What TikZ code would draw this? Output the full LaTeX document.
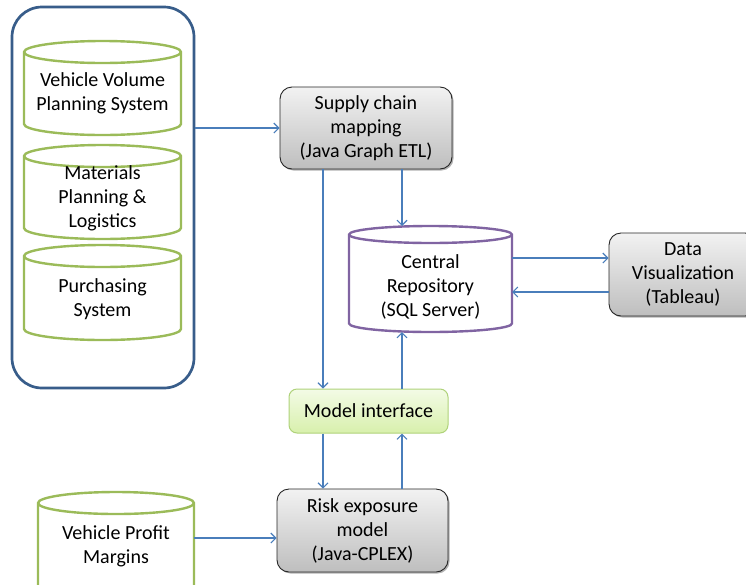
\documentclass[tikz,border=0pt]{standalone}
\usepackage{fontspec}
\setmainfont{Carlito}
\usetikzlibrary{arrows.meta,shadows,calc}
\definecolor{cgreen}{HTML}{9BBB59}
\definecolor{cpurple}{HTML}{8064A2}
\definecolor{cblue}{HTML}{385D8A}
\definecolor{carrow}{HTML}{4A7EBB}
\definecolor{mitop}{HTML}{F3FBE6}
\definecolor{mibot}{HTML}{D8F0AC}
\definecolor{miborder}{HTML}{AFD27A}
\definecolor{gtop}{HTML}{F2F2F2}
\definecolor{gbot}{HTML}{BEBEBE}
\newcommand\mycyl[7]{% name, style, x1, x2, ytop, ybot, ry (pixels, y down)
  \draw[#2, fill=white] ({#3},{-(#5)-(#7)}) -- ({#3},{-(#6)+(#7)})
    arc[start angle=180,end angle=360,x radius={((#4)-(#3))/2},y radius=#7]
    -- ({#4},{-(#5)-(#7)})
    arc[start angle=0,end angle=180,x radius={((#4)-(#3))/2},y radius=#7] -- cycle;
  \draw[#2] ({#3},{-(#5)-(#7)})
    arc[start angle=180,end angle=360,x radius={((#4)-(#3))/2},y radius=#7];
  \coordinate (#1-t) at ({((#3)+(#4))/2},{-(#5)});
  \coordinate (#1-b) at ({((#3)+(#4))/2},{-(#6)});
  \coordinate (#1-r) at ({#4},{-((#5)+(#6))/2});
}
\begin{document}
\begin{tikzpicture}[x=1pt,y=1pt,
  every node/.style={font=\fontsize{20}{24}\selectfont, align=center, inner sep=0pt},
  graybox/.style={draw=black!85, line width=0.9pt, rounded corners=12pt,
    top color=gtop, bottom color=gbot,
    drop shadow={shadow xshift=1.5pt, shadow yshift=-1.5pt, opacity=0.3, fill=black}},
  greencyl/.style={draw=cgreen, line width=2.4pt},
  purplecyl/.style={draw=cpurple, line width=2.4pt},
  arr/.style={draw=carrow, line width=1.1pt, -{Straight Barb[length=5pt,width=10pt]}}
]
\useasboundingbox (0,0) rectangle (746,-584);
\fill[white] (0,0) rectangle (746,-584);

% outer container
\node[draw=cblue, line width=2.7pt, rounded corners=30pt,
  minimum width=182pt, minimum height=381pt] (outer) at (103,-197.5) {};

% source cylinders
\mycyl{c1}{greencyl}{24}{181}{41}{135}{11}
\node (v1) at (102.5,-93.5) {Vehicle Volume\\Planning System};
\mycyl{c2}{greencyl}{24}{181}{145}{239}{11}
\node (v2) at (102.5,-198.5) {Materials\\Planning \&\\Logistics};
\mycyl{c3}{greencyl}{24}{181}{245}{340}{11}
\node (v3) at (102.5,-299) {Purchasing\\System};

% central repository
\mycyl{repo}{purplecyl}{349}{512}{226}{332}{8.5}
\node (repotext) at (430.5,-287) {Central\\Repository\\(SQL Server)};

% vehicle profit margins
\mycyl{vpm}{greencyl}{38}{194}{492}{600}{11}
\node (vpmtext) at (116,-546.5) {Vehicle Profit\\Margins};

% boxes
\node[graybox, minimum width=172pt, minimum height=82pt] (sc) at (366,-128)
  {Supply chain\\mapping\\(Java Graph ETL)};
\node[graybox, minimum width=148pt, minimum height=83pt] (dv) at (683,-274.5)
  {Data\\Visualization\\(Tableau)};
\node[draw=miborder, line width=1pt, rounded corners=8pt, top color=mitop, bottom color=mibot,
  minimum width=159pt, minimum height=44pt] (mi) at (368.5,-411) {Model interface};
\node[graybox, minimum width=171pt, minimum height=83pt] (risk) at (362.5,-530.5)
  {Risk exposure\\model\\(Java-CPLEX)};

% helper coordinates for connector lanes
\coordinate (xl) at (323,0);
\coordinate (xr) at (402,0);
\coordinate (ya) at (0,-258);
\coordinate (yb) at (0,-292);
\coordinate (yc) at (0,-538);

% connectors
\draw[arr] (outer.east |- sc.west) -- (sc.west);
\draw[arr] (sc.south -| xr) -- (repo-t -| xr);
\draw[arr] (sc.south -| xl) -- (mi.north -| xl);
\draw[arr] (mi.north -| xr) -- (repo-b -| xr);
\draw[arr] (mi.south -| xl) -- (risk.north -| xl);
\draw[arr] (risk.north -| xr) -- (mi.south -| xr);
\draw[arr] (repo-r |- ya) -- (dv.west |- ya);
\draw[arr] (dv.west |- yb) -- (repo-r |- yb);
\draw[arr] (vpm-r |- yc) -- (risk.west |- yc);
\end{tikzpicture}
\end{document}
